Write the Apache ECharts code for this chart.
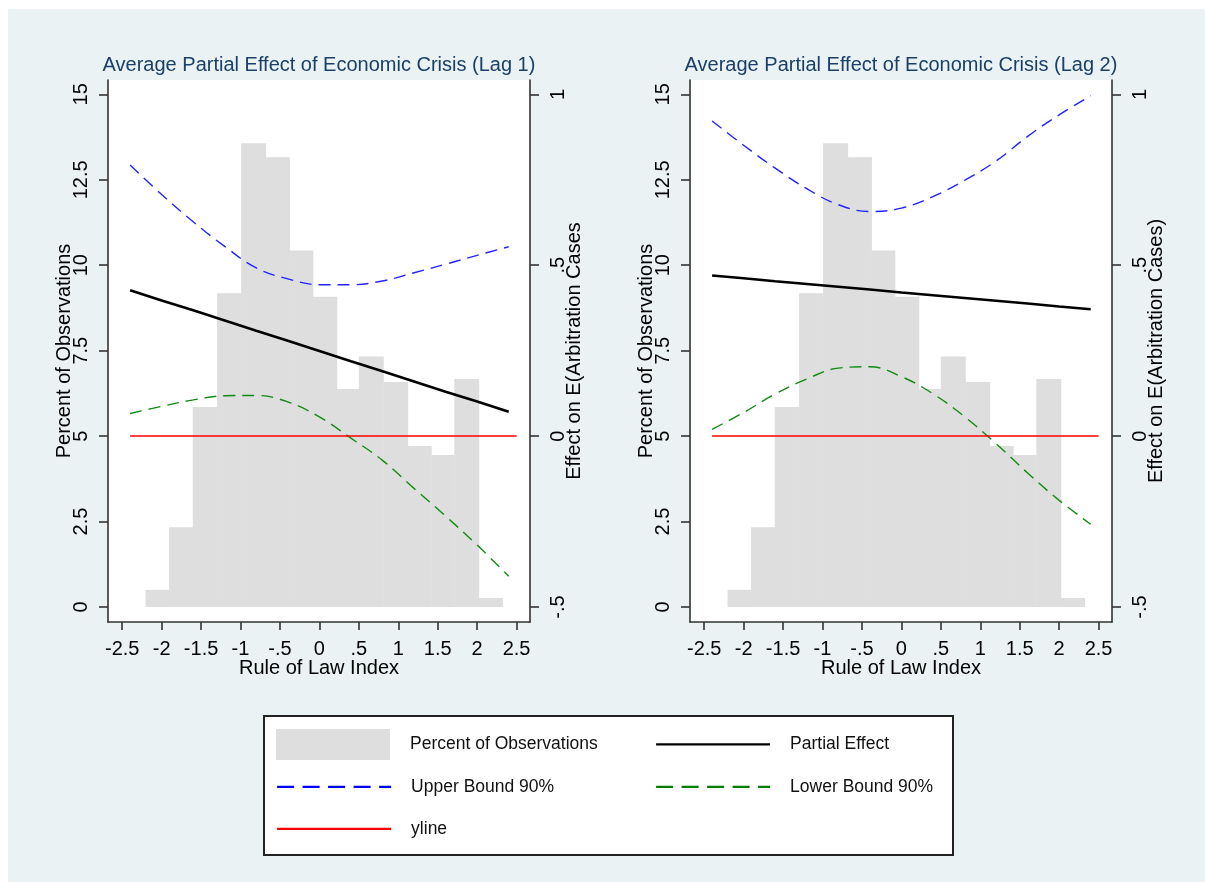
<!DOCTYPE html>
<html>
<head>
<meta charset="utf-8">
<script src="https://cdn.jsdelivr.net/npm/echarts@6/dist/echarts.min.js"></script>
<style>
  html, body { margin: 0; padding: 0; background: #ffffff; }
  #bg { position: absolute; left: 8px; top: 9px; width: 1197px; height: 873px; background: #eaf2f3; }
  #legendbox { position: absolute; left: 263px; top: 715px; width: 687px; height: 137px; background: #ffffff; border: 2px solid #222222; }
  #chart { position: absolute; left: 0; top: 0; width: 1205px; height: 882px; }
</style>
</head>
<body>
<div id="bg"></div>
<div id="legendbox"></div>
<div id="chart"></div>
<script>
// ---------- data ----------
const panelTitles = ['Average Partial Effect of Economic Crisis (Lag 1)', 'Average Partial Effect of Economic Crisis (Lag 2)'];
const rightAxisNames = ['Effect on E(Arbitration Cases', 'Effect on E(Arbitration Cases)'];
const xTicks = [-2.5, -2, -1.5, -1, -0.5, 0, 0.5, 1, 1.5, 2, 2.5];
const pctTicks = [0, 2.5, 5, 7.5, 10, 12.5, 15];
const effTicks = [-0.5, 0, 0.5, 1];

// histogram (same in both panels): bin edges and percent of observations
const binEdges = [-2.204, -1.906, -1.605, -1.297, -0.993, -0.682, -0.38, -0.083, 0.22, 0.5, 0.81, 1.119, 1.417, 1.71, 2.02, 2.322];
const binPct = [0.5, 2.33, 5.85, 9.18, 13.57, 13.16, 10.43, 9.08, 6.38, 7.33, 6.58, 4.71, 4.45, 6.67, 0.26];

// curves: x positions where values were read
const xRead = [-2.4, -2.0, -1.6, -1.2, -0.8, -0.4, 0, 0.4, 0.8, 1.2, 1.6, 2.0, 2.4];
// Lag 1
const effect1 = [0.427, 0.397, 0.368, 0.338, 0.308, 0.279, 0.249, 0.219, 0.190, 0.160, 0.130, 0.101, 0.071];
const upper1  = [0.793, 0.707, 0.627, 0.555, 0.492, 0.460, 0.443, 0.443, 0.454, 0.478, 0.503, 0.529, 0.554];
const lower1  = [0.066, 0.087, 0.106, 0.118, 0.119, 0.100, 0.056, -0.006, -0.071, -0.153, -0.234, -0.319, -0.410];
// Lag 2
const effect2 = [0.470, 0.462, 0.453, 0.445, 0.437, 0.429, 0.420, 0.412, 0.404, 0.396, 0.388, 0.379, 0.371];
const upper2  = [0.922, 0.851, 0.784, 0.724, 0.677, 0.657, 0.667, 0.701, 0.748, 0.805, 0.877, 0.940, 0.996];
const lower2  = [0.020, 0.069, 0.123, 0.167, 0.199, 0.203, 0.174, 0.124, 0.057, -0.022, -0.108, -0.188, -0.258];
// reference line (yline at 0)
const ylineX = [-2.4, 2.5];
const ylineY = [0, 0];

// ---------- chart ----------
const FONT = '"Liberation Sans", Arial, sans-serif';
const AXIS_COLOR = '#333333';
const panels = [
  { effect: effect1, upper: upper1, lower: lower1 },
  { effect: effect2, upper: upper2, lower: lower2 }
];
const gridLefts = [108, 690];
const GRID_TOP = 80, GRID_W = 422, GRID_H = 542;
const X_MIN = -2.68, X_MAX = 2.67;
const PCT_MIN = -0.44, PCT_MAX = 15.42;
// right axis maps linearly to the left axis: eff = (pct - 5) / 10
const EFF_MIN = (PCT_MIN - 5) / 10, EFF_MAX = (PCT_MAX - 5) / 10;

function fmt(v) {
  let s = String(Math.round(v * 1000) / 1000);
  return s.replace(/^(-?)0\./, '$1.');
}
function zip(xs, ys) { return xs.map((x, i) => [x, ys[i]]); }

const lineStyleAxis = { color: AXIS_COLOR, width: 1.6 };
const grids = [], xAxes = [], yAxes = [], series = [], graphics = [];
const LABEL = { fontSize: 20, color: '#000', fontFamily: FONT };

panels.forEach((p, i) => {
  grids.push({ left: gridLefts[i], top: GRID_TOP, width: GRID_W, height: GRID_H,
    show: true, backgroundColor: '#ffffff', borderWidth: 0 });
  xAxes.push({
    type: 'value', gridIndex: i, min: X_MIN, max: X_MAX, position: 'bottom',
    axisLine: { show: true, onZero: false, lineStyle: lineStyleAxis },
    axisTick: { show: true, inside: false, length: 8, customValues: xTicks, lineStyle: lineStyleAxis },
    axisLabel: Object.assign({ customValues: xTicks, formatter: fmt, margin: 17 }, LABEL),
    splitLine: { show: false },
    name: 'Rule of Law Index', nameLocation: 'middle', nameGap: 36, nameMoveOverlap: false,
    nameTextStyle: LABEL
  });
  yAxes.push({
    type: 'value', gridIndex: i, position: 'left', min: PCT_MIN, max: PCT_MAX,
    axisLine: { show: true, onZero: false, lineStyle: lineStyleAxis },
    axisTick: { show: true, inside: false, length: 9, customValues: pctTicks, lineStyle: lineStyleAxis },
    axisLabel: Object.assign({ customValues: pctTicks, formatter: fmt, rotate: 90, margin: 17 }, LABEL),
    splitLine: { show: false },
    name: 'Percent of Observations', nameLocation: 'middle', nameGap: 34, nameMoveOverlap: false,
    nameTextStyle: LABEL
  });
  yAxes.push({
    type: 'value', gridIndex: i, position: 'right', min: EFF_MIN, max: EFF_MAX,
    axisLine: { show: true, onZero: false, lineStyle: lineStyleAxis },
    axisTick: { show: true, inside: false, length: 9, customValues: effTicks, lineStyle: lineStyleAxis },
    axisLabel: Object.assign({ customValues: effTicks, formatter: fmt, rotate: 90, margin: 18 }, LABEL),
    splitLine: { show: false },
    name: rightAxisNames[i], nameLocation: 'middle', nameGap: 34, nameMoveOverlap: false,
    nameTextStyle: LABEL
  });

  series.push({
    type: 'custom', name: 'Percent of Observations', xAxisIndex: i, yAxisIndex: 2 * i,
    itemStyle: { color: '#dedede' },
    encode: { x: [0, 1], y: 2 },
    data: binPct.map((h, k) => [binEdges[k], binEdges[k + 1], h]),
    renderItem: function (params, api) {
      const a = api.coord([api.value(0), api.value(2)]);
      const b = api.coord([api.value(1), 0]);
      return { type: 'rect', shape: { x: a[0], y: a[1], width: b[0] - a[0] + 0.5, height: b[1] - a[1] },
        style: { fill: '#dedede' } };
    },
    z: 1, silent: true
  });
  series.push({
    type: 'line', name: 'Upper Bound 90%', xAxisIndex: i, yAxisIndex: 2 * i + 1,
    data: zip(xRead, p.upper), smooth: 0.4, symbol: 'none',
    lineStyle: { color: '#2222ff', width: 1.4, type: [12, 7] }, itemStyle: { color: '#0000ff' }, z: 3, silent: true
  });
  series.push({
    type: 'line', name: 'Lower Bound 90%', xAxisIndex: i, yAxisIndex: 2 * i + 1,
    data: zip(xRead, p.lower), smooth: 0.4, symbol: 'none',
    lineStyle: { color: '#108a10', width: 1.4, type: [12, 7] }, itemStyle: { color: '#008000' }, z: 3, silent: true
  });
  series.push({
    type: 'line', name: 'yline', xAxisIndex: i, yAxisIndex: 2 * i + 1,
    data: zip(ylineX, ylineY), symbol: 'none',
    lineStyle: { color: '#ff0000', width: 1.5 }, itemStyle: { color: '#ff0000' }, z: 3, silent: true
  });
  series.push({
    type: 'line', name: 'Partial Effect', xAxisIndex: i, yAxisIndex: 2 * i + 1,
    data: zip(xRead, p.effect), symbol: 'none',
    lineStyle: { color: '#000000', width: 2.6 }, itemStyle: { color: '#000000' }, z: 4, silent: true
  });

  graphics.push({
    type: 'text', x: gridLefts[i] + GRID_W / 2, y: 65,
    style: { text: panelTitles[i], fill: '#1a3f68', font: '20px ' + FONT, textAlign: 'center', textVerticalAlign: 'middle' }
  });
});

const legendText = { fontSize: 17.5, color: '#111', fontFamily: FONT, padding: [0, 0, 0, 15] };
const NOSYM = { color: 'rgba(0,0,0,0)', borderColor: 'rgba(0,0,0,0)', borderWidth: 0, opacity: 0 };
function legendAt(left, top, item) {
  return { orient: 'vertical', left: left, top: top, itemWidth: 114, itemHeight: 31, padding: 0,
    selectedMode: false, textStyle: legendText, z: 10, data: [item] };
}
const legendCols = [276, 655];
const legendRows = [729, 774.5, 816.5];

const option = {
  animation: false,
  backgroundColor: 'transparent',
  textStyle: { fontFamily: FONT },
  graphic: graphics,
  grid: grids,
  xAxis: xAxes,
  yAxis: yAxes,
  legend: [
    legendAt(legendCols[0], legendRows[0], { name: 'Percent of Observations', icon: 'rect', itemStyle: { color: '#dedede', borderWidth: 0 } }),
    legendAt(legendCols[0], legendRows[1], { name: 'Upper Bound 90%', itemStyle: NOSYM, lineStyle: { color: '#0000ff', width: 2.2, type: [17, 8.5] } }),
    legendAt(legendCols[0], legendRows[2], { name: 'yline', itemStyle: NOSYM, lineStyle: { color: '#ff0000', width: 2.2 } }),
    legendAt(legendCols[1], 732, { name: 'Partial Effect', itemStyle: NOSYM, lineStyle: { color: '#000000', width: 2.2 } }),
    legendAt(legendCols[1], legendRows[1], { name: 'Lower Bound 90%', itemStyle: NOSYM, lineStyle: { color: '#008000', width: 2.2, type: [17, 8.5] } })
  ],
  series: series
};

const chart = echarts.init(document.getElementById('chart'), null, { renderer: 'canvas' });
chart.setOption(option);
</script>
</body>
</html>
